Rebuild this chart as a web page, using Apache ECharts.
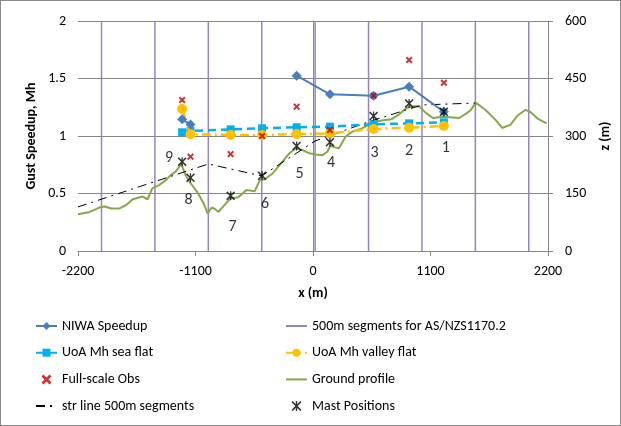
<!DOCTYPE html>
<html>
<head>
<meta charset="utf-8">
<script src="https://cdn.jsdelivr.net/npm/echarts@6/dist/echarts.min.js"></script>
<style>
  html, body { margin: 0; padding: 0; background: #fff; }
  #chart { width: 619px; height: 424px; border: 1px solid #8a8a8a; }
</style>
</head>
<body>
<div id="chart"></div>
<script>
// mast positions along the transect, left to right (mast 9 ... mast 1)
var mastX = [-1225, -1147, -771, -477, -153, 159, 567, 900, 1225];
var mastNames = ['9', '8', '7', '6', '5', '4', '3', '2', '1'];
var mastZ = [233, 191, 144, 196, 274, 284, 352, 385, 363];

// speedups (left axis), '-' where there is no value
var niwaSpeedup = [1.145, 1.10, '-', '-', 1.524, 1.363, 1.350, 1.429, 1.211];
var uoaSeaFlat = [1.032, 1.043, 1.058, 1.067, 1.076, 1.081, 1.102, 1.110, 1.119];
var uoaValleyFlat = [1.235, 1.015, 1.009, 1.009, 1.017, 1.023, 1.061, 1.072, 1.087];
var fullScaleObs = [1.313, 0.82, 0.843, 1.0, 1.255, 1.052, 1.350, 1.661, 1.463];

// 500m segment boundaries
var segX = [-1980, -1480, -980, -480, 20, 520, 1020, 1520, 2020];

// straight line 500m segments (right axis)
var strX = [-2200, -980, -480, 20, 520, 1020, 1520];
var strZ = [115, 227, 196, 287, 337, 381, 386];

// ground profile (right axis)
var groundX = [-2200, -2089, -1996, -1950, -1888, -1811, -1749, -1688, -1595, -1549,
  -1503, -1440, -1378, -1332, -1286, -1234, -1193, -1147, -1086, -1024,
  -987, -947, -915, -885, -838, -776, -699, -623, -576, -545,
  -498, -452, -375, -298, -220, -159, -97, -35, 26, 88,
  134, 165, 196, 243, 304, 366, 459, 521, 582, 674,
  736, 799, 875, 952, 999, 1061, 1123, 1215, 1369, 1447,
  1478, 1524, 1616, 1709, 1771, 1818, 1848, 1910, 1987, 2033,
  2110, 2188];
var groundZ = [96, 102, 114, 116, 111, 111, 120, 135, 142, 135,
  164, 172, 185, 198, 207, 227, 198, 177, 155, 124,
  98, 114, 109, 102, 117, 137, 140, 159, 157, 156,
  185, 187, 203, 229, 255, 268, 263, 255, 252, 250,
  259, 276, 271, 268, 298, 311, 320, 329, 337, 342,
  344, 355, 373, 378, 376, 359, 347, 350, 347, 361,
  368, 387, 368, 342, 321, 326, 329, 352, 368, 363,
  344, 333];

// label offsets for the mast numbers (px)
var mastLabelOffset = [[-13, -4], [-2, 22], [2, 31], [3, 28], [3, 28], [1, 21], [1, 37], [0, 48], [2, 36]];

var zip = function (xs, ys) {
    var out = [];
    for (var i = 0; i < xs.length; i++) out.push([xs[i], ys[i]]);
    return out;
};

var segData = [];
for (var i = 0; i < segX.length; i++) {
    segData.push([segX[i], 0], [segX[i], 2], [segX[i], '-']);
}

var mastData = [];
for (var i = 0; i < mastX.length; i++) {
    mastData.push({
        name: mastNames[i],
        value: [mastX[i], mastZ[i]],
        label: { offset: mastLabelOffset[i] }
    });
}

var FONT = 'Carlito, Lato, sans-serif';
var crossPath = 'path://M0,2 L2,0 L5,3 L8,0 L10,2 L7,5 L10,8 L8,10 L5,7 L2,10 L0,8 L3,5 Z';
var starPath = 'path://M0,1.2 L1.2,0 L5,3.8 L8.8,0 L10,1.2 L6.2,5 L10,8.8 L8.8,10 L5,6.2 L1.2,10 L0,8.8 L3.8,5 Z M4.3,0 L5.7,0 L5.7,10 L4.3,10 Z';
var plainNum = function (v) { return String(v); };
var axisName = { fontFamily: FONT, fontSize: 14, fontWeight: 'bold', color: '#000' };
var noSymbol = { opacity: 0 };

var chart = echarts.init(document.getElementById('chart'));

chart.setOption({
    animation: false,
    textStyle: { fontFamily: FONT },
    grid: { left: 77, right: 67, top: 20, bottom: 174 },
    xAxis: {
        type: 'value',
        min: -2200, max: 2200, interval: 1100,
        name: 'x (m)', nameLocation: 'middle', nameGap: 35, nameMoveOverlap: false,
        nameTextStyle: axisName,
        axisLine: { show: true, lineStyle: { color: '#868686' } },
        axisTick: { show: true, length: 5, lineStyle: { color: '#868686' } },
        axisLabel: { fontFamily: FONT, fontSize: 14, color: '#000', margin: 13, formatter: plainNum },
        splitLine: { show: false }
    },
    yAxis: [{
        type: 'value',
        min: 0, max: 2, interval: 0.5,
        name: 'Gust Speedup, Mh', nameLocation: 'middle', nameGap: 40, nameMoveOverlap: false,
        nameTextStyle: axisName,
        axisLine: { show: true, lineStyle: { color: '#868686' } },
        axisTick: { show: true, length: 5, lineStyle: { color: '#868686' } },
        axisLabel: { fontFamily: FONT, fontSize: 14, color: '#000', margin: 12, formatter: plainNum },
        splitLine: { show: true, lineStyle: { color: '#868686' } }
    }, {
        type: 'value',
        min: 0, max: 600, interval: 150,
        name: 'z (m)', nameLocation: 'middle', nameGap: 50, nameMoveOverlap: false,
        nameTextStyle: axisName,
        axisLine: { show: true, lineStyle: { color: '#868686' } },
        axisTick: { show: true, length: 5, lineStyle: { color: '#868686' } },
        axisLabel: { fontFamily: FONT, fontSize: 14, color: '#000', margin: 17, formatter: plainNum },
        splitLine: { show: false }
    }],
    legend: [{
        orient: 'vertical', left: 34, top: 318, padding: 0,
        itemWidth: 21, itemHeight: 10, itemGap: 12.7,
        textStyle: { fontFamily: FONT, fontSize: 14, color: '#000' },
        data: ['NIWA Speedup', 'UoA Mh sea flat', 'Full-scale Obs',
            { name: 'str line 500m segments', itemStyle: noSymbol }]
    }, {
        orient: 'vertical', left: 284, top: 318, padding: 0,
        itemWidth: 21, itemHeight: 10, itemGap: 12.7,
        textStyle: { fontFamily: FONT, fontSize: 14, color: '#000' },
        data: [{ name: '500m segments for AS/NZS1170.2', itemStyle: noSymbol }, 'UoA Mh valley flat',
            { name: 'Ground profile', itemStyle: noSymbol }, 'Mast Positions']
    }],
    series: [{
        name: '500m segments for AS/NZS1170.2',
        type: 'line',
        data: segData,
        symbol: 'none',
        connectNulls: false,
        lineStyle: { color: '#9585bb', width: 1.5 },
        itemStyle: { color: '#9585bb' },
        z: 1
    }, {
        name: 'Ground profile',
        type: 'line',
        yAxisIndex: 1,
        data: zip(groundX, groundZ),
        symbol: 'none',
        lineStyle: { color: '#87a84a', width: 2 },
        itemStyle: { color: '#87a84a' },
        z: 2
    }, {
        name: 'str line 500m segments',
        type: 'line',
        yAxisIndex: 1,
        data: zip(strX, strZ),
        symbol: 'none',
        lineStyle: { color: '#000', width: 1, type: [9, 5, 2, 5] },
        itemStyle: { color: '#000' },
        z: 3
    }, {
        name: 'UoA Mh sea flat',
        type: 'line',
        data: zip(mastX, uoaSeaFlat),
        symbol: 'rect', symbolSize: 8,
        lineStyle: { color: '#00b0f0', width: 2.5, type: [8, 5] },
        itemStyle: { color: '#00b0f0' },
        z: 4
    }, {
        name: 'UoA Mh valley flat',
        type: 'line',
        data: zip(mastX, uoaValleyFlat),
        symbol: 'circle', symbolSize: 10,
        lineStyle: { color: '#ffc000', width: 2.5, type: [9, 4, 2, 4] },
        itemStyle: { color: '#ffc000' },
        z: 5
    }, {
        name: 'NIWA Speedup',
        type: 'line',
        data: zip(mastX, niwaSpeedup),
        symbol: 'diamond', symbolSize: 10,
        connectNulls: false,
        lineStyle: { color: '#4a7ebb', width: 2 },
        itemStyle: { color: '#4a7ebb' },
        z: 6
    }, {
        name: 'Full-scale Obs',
        type: 'scatter',
        data: zip(mastX, fullScaleObs),
        symbol: crossPath, symbolSize: 7,
        itemStyle: { color: '#c00000' },
        z: 7
    }, {
        name: 'Mast Positions',
        type: 'scatter',
        yAxisIndex: 1,
        data: mastData,
        symbol: starPath, symbolSize: 9,
        itemStyle: { color: '#000' },
        label: {
            show: true, position: 'inside',
            formatter: '{b}',
            fontFamily: FONT, fontSize: 16, color: '#000'
        },
        z: 8
    }]
});
</script>
</body>
</html>
